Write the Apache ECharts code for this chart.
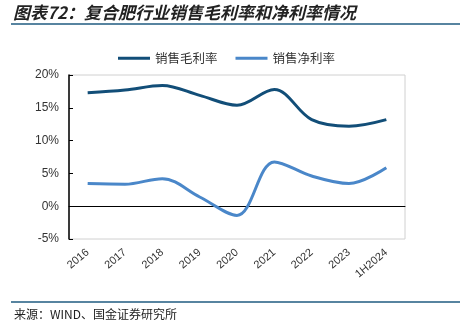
<!DOCTYPE html>
<html><head><meta charset="utf-8">
<script src="https://cdn.jsdelivr.net/npm/echarts@6/dist/echarts.min.js"></script>
<style>html,body{margin:0;padding:0;background:#fff}#c{width:460px;height:330px}</style>
</head><body><div id="c"></div>
<script>
const categories = ['2016','2017','2018','2019','2020','2021','2022','2023','1H2024'];
const grossMargin = [17.3, 17.7, 18.4, 16.9, 15.4, 17.8, 13.2, 12.2, 13.2];
const netMargin = [3.45, 3.35, 4.2, 1.4, -1.4, 6.75, 4.6, 3.45, 5.85];
const yTicks = [-5, 0, 5, 10, 15, 20];

const chart = echarts.init(document.getElementById('c'));
chart.setOption({
  animation: false,
  graphic: [
    {type:'text', left:13, top:4, style:{text:'图表72：复合肥行业销售毛利率和净利率情况', font:'italic bold 17px "Noto Sans CJK SC"', fill:'#222'}},
    {type:'line', shape:{x1:11,y1:24,x2:460,y2:24}, style:{stroke:'#1f5b80', lineWidth:1.5}},
    {type:'line', shape:{x1:11,y1:302,x2:460,y2:302}, style:{stroke:'#1f5b80', lineWidth:1.5}},
    {type:'text', left:14, top:308, style:{text:'来源：WIND、国金证券研究所', font:'12px "Noto Sans CJK SC"', fill:'#222'}}
  ],
  legend: {
    top: 47, left: 113,
    itemWidth: 32, itemHeight: 3, itemGap: 18,
    icon: 'rect',
    textStyle: {fontSize: 12.5, color: '#333', fontFamily: '"Noto Sans CJK SC"'},
    data: ['销售毛利率','销售净利率']
  },
  grid: {left: 69, right: 55, top: 75, bottom: 91, show: true, borderColor: '#d0d0d0', borderWidth: 1},
  xAxis: [{
    type: 'category', data: categories, boundaryGap: true, position: 'bottom',
    axisLine: {show: false, onZero: false},
    axisTick: {show: false},
    axisLabel: {rotate: 40, margin: 12, fontSize: 11, color: '#333', fontFamily: 'Liberation Sans, Arial'}
  }, {
    type: 'category', data: categories, boundaryGap: true, position: 'bottom',
    axisLine: {show: true, onZero: true, lineStyle: {color: '#000', width: 1}},
    axisTick: {inside: true, length: 4, lineStyle: {color: '#000'}},
    axisLabel: {show: false}
  }],
  yAxis: {
    type: 'value', min: -5, max: 20, interval: 5,
    axisLine: {show: true, lineStyle: {color: '#000', width: 1.5}},
    axisTick: {show: true, inside: true, length: 4, lineStyle: {color: '#000'}},
    splitLine: {show: false},
    axisLabel: {fontSize: 12, color: '#333', fontFamily: 'Liberation Sans, Arial', margin: 10,
      formatter: v => yTicks.includes(v) ? v + '%' : ''}
  },
  series: [
    {name: '销售毛利率', type: 'line', data: grossMargin, smooth: 0.35, symbol: 'none',
     lineStyle: {width: 3, color: '#124e78'}, itemStyle: {color: '#124e78'}},
    {name: '销售净利率', type: 'line', data: netMargin, smooth: 0.35, symbol: 'none',
     lineStyle: {width: 3, color: '#4a87c9'}, itemStyle: {color: '#4a87c9'}}
  ]
});
</script></body></html>
